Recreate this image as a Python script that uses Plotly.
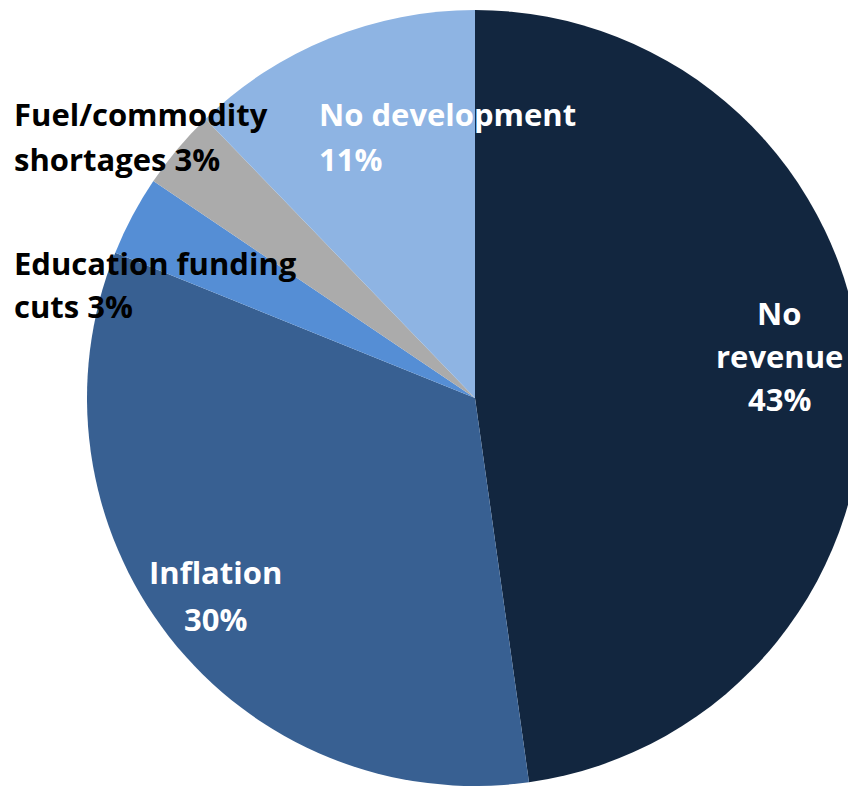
import plotly.graph_objects as go

# Data
categories = ["No revenue", "Inflation", "Education funding cuts",
              "Fuel/commodity shortages", "No development"]
values = [43, 30, 3, 3, 11]
colors = ["#12263F", "#386092", "#558ED5", "#ABABAB", "#8EB4E3"]

W, H = 856, 780
fig = go.Figure()
fig.add_trace(go.Pie(
    labels=categories, values=values, sort=False,
    direction="clockwise", rotation=0,
    marker=dict(colors=colors, line=dict(width=0)),
    textinfo="none", hoverinfo="label+percent", showlegend=False,
    domain=dict(x=[79 / W, 855 / W], y=[1 - 778 / H, 1 - 2 / H]),
))

pct = {c: f"{v}%" for c, v in zip(categories, values)}
# label lines: (text, x px, y px center, anchor, color) in figure pixels
lines = [
    ("No", 771, 305, "center", "white"),
    ("revenue", 771, 348, "center", "white"),
    (pct["No revenue"], 771, 391, "center", "white"),
    ("Inflation", 207, 564, "center", "white"),
    (pct["Inflation"], 207, 611, "center", "white"),
    ("Education funding", 4, 255, "left", "black"),
    ("cuts " + pct["Education funding cuts"], 4, 298, "left", "black"),
    ("Fuel/commodity", 4, 106, "left", "black"),
    ("shortages " + pct["Fuel/commodity shortages"], 4, 151, "left", "black"),
    ("No development", 309, 106, "left", "white"),
    (pct["No development"], 309, 151, "left", "white"),
]
for t, x, y, anc, col in lines:
    fig.add_annotation(
        text=t, x=x / W, y=1 - y / H, xref="paper", yref="paper",
        xanchor=anc, yanchor="middle", showarrow=False,
        font=dict(family="Open Sans", size=31, color=col, weight="bold"),
    )

fig.update_layout(
    width=W, height=H, margin=dict(l=0, r=0, t=0, b=0),
    paper_bgcolor="white", plot_bgcolor="white",
)
fig.write_html("out.html")
